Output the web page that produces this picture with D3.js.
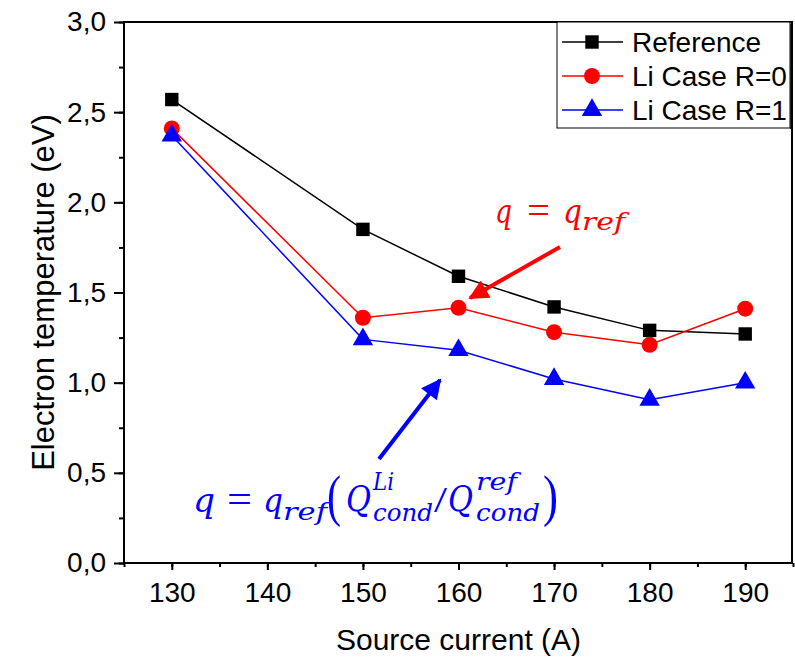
<!DOCTYPE html>
<html>
<head>
<meta charset="utf-8">
<script src="https://cdn.jsdelivr.net/npm/d3@7"></script>
<style>
  body { margin: 0; background: #fff; }
  svg text { font-family: "Liberation Sans", Arial, sans-serif; }
  svg text.math { font-family: "DejaVu Serif", serif; font-style: italic; }
  svg text.upright { font-family: "Liberation Serif", serif; }
</style>
</head>
<body>
<div id="chart"></div>
<script>
var w = 795;
var h = 661;
var margin = {top: 22, right: 2, bottom: 98, left: 124};

// data
var current = [130, 150, 160, 170, 180, 190];
var reference = [2.57, 1.85, 1.59, 1.42, 1.29, 1.27];
var liR0 = [2.41, 1.36, 1.415, 1.28, 1.21, 1.41];
var liR1 = [2.37, 1.24, 1.18, 1.02, 0.905, 1.0];
var seriesNames = ["Reference", "Li Case R=0", "Li Case R=1"];
var seriesColors = ["#000000", "#ff0000", "#0000ff"];
var seriesShapes = [d3.symbolSquare, d3.symbolCircle, d3.symbolTriangle];
var seriesSizes = [180, 200, 180];
var xTicks = [130, 140, 150, 160, 170, 180, 190];
var yTicks = [0, 0.5, 1.0, 1.5, 2.0, 2.5, 3.0];

var svg = d3.select("#chart").append("svg")
  .attr("width", w)
  .attr("height", h);

var xScale = d3.scaleLinear()
  .domain([125, 195])
  .range([margin.left, w - margin.right]);
var yScale = d3.scaleLinear()
  .domain([0, 3])
  .range([h - margin.bottom, margin.top]);

var comma = function(d) { return d3.format(".1f")(d).replace(".", ","); };

// minor ticks
svg.append("g")
  .attr("transform", "translate(0," + (h - margin.bottom) + ")")
  .call(d3.axisBottom(xScale).tickValues(d3.range(125, 196, 5)).tickSize(4).tickFormat(""))
  .call(function(g) { g.select(".domain").remove(); g.selectAll("line").attr("stroke-width", 2); });
svg.append("g")
  .attr("transform", "translate(" + margin.left + ",0)")
  .call(d3.axisLeft(yScale).tickValues(d3.range(0, 3.01, 0.25)).tickSize(5).tickFormat(""))
  .call(function(g) { g.select(".domain").remove(); g.selectAll("line").attr("stroke-width", 2); });

// major ticks
var xAxis = svg.append("g")
  .attr("transform", "translate(0," + (h - margin.bottom) + ")")
  .call(d3.axisBottom(xScale).tickValues(xTicks).tickSize(7).tickPadding(12));
xAxis.select(".domain").remove();
xAxis.selectAll("line").attr("stroke-width", 2);
xAxis.selectAll("text")
  .attr("font-size", 28)
  .attr("fill", "#000");

var yAxis = svg.append("g")
  .attr("transform", "translate(" + margin.left + ",0)")
  .call(d3.axisLeft(yScale).tickValues(yTicks).tickSize(10).tickPadding(8).tickFormat(comma));
yAxis.select(".domain").remove();
yAxis.selectAll("line").attr("stroke-width", 2);
yAxis.selectAll("text")
  .attr("font-size", 28)
  .attr("fill", "#000");

// frame
svg.append("rect")
  .attr("x", margin.left)
  .attr("y", margin.top)
  .attr("width", w - margin.left - margin.right - 1)
  .attr("height", h - margin.top - margin.bottom)
  .attr("fill", "none")
  .attr("stroke", "#000")
  .attr("stroke-width", 2);

// axis titles
svg.append("text")
  .attr("x", (margin.left + w - margin.right) / 2)
  .attr("y", 650)
  .attr("text-anchor", "middle")
  .attr("font-size", 30)
  .text("Source current (A)");
svg.append("text")
  .attr("transform", "translate(54," + ((margin.top + h - margin.bottom) / 2) + ") rotate(-90)")
  .attr("text-anchor", "middle")
  .attr("font-size", 31)
  .text("Electron temperature (eV)");

// series
var allSeries = [reference, liR0, liR1];
var line = d3.line()
  .x(function(d, i) { return xScale(current[i]); })
  .y(function(d) { return yScale(d); });

allSeries.forEach(function(vals, s) {
  svg.append("path")
    .datum(vals)
    .attr("d", line)
    .attr("fill", "none")
    .attr("stroke", seriesColors[s])
    .attr("stroke-width", 1.5);
});
allSeries.forEach(function(vals, s) {
  svg.selectAll(".pt" + s)
    .data(vals)
    .enter()
    .append("path")
    .attr("class", "pt" + s)
    .attr("d", d3.symbol().type(seriesShapes[s]).size(seriesSizes[s]))
    .attr("transform", function(d, i) {
      return "translate(" + xScale(current[i]) + "," + yScale(d) + ")";
    })
    .attr("fill", seriesColors[s]);
});

// legend
var legend = svg.append("g").attr("transform", "translate(557,22)");
legend.append("line")
  .attr("x1", 234).attr("x2", 234).attr("y1", 2).attr("y2", 107)
  .attr("stroke", "#000").attr("stroke-width", 1.5);
legend.append("rect")
  .attr("width", 233)
  .attr("height", 106)
  .attr("fill", "#fff")
  .attr("stroke", "#000")
  .attr("stroke-width", 1);
seriesNames.forEach(function(name, s) {
  var yy = 20 + s * 34;
  legend.append("line")
    .attr("x1", 5).attr("x2", 66)
    .attr("y1", yy).attr("y2", yy)
    .attr("stroke", seriesColors[s])
    .attr("stroke-width", 1.5);
  legend.append("path")
    .attr("d", d3.symbol().type(seriesShapes[s]).size(seriesSizes[s]))
    .attr("transform", "translate(35," + yy + ")")
    .attr("fill", seriesColors[s]);
  legend.append("text")
    .attr("x", 75)
    .attr("y", yy + 10)
    .attr("font-size", 28)
    .text(name);
});

// arrow heads
var defs = svg.append("defs");
[["red", "#ff0000"], ["blue", "#0000ff"]].forEach(function(c) {
  defs.append("marker")
    .attr("id", "arrow-" + c[0])
    .attr("viewBox", "0 0 10 10")
    .attr("refX", 9).attr("refY", 5)
    .attr("markerWidth", 6).attr("markerHeight", 5)
    .attr("markerUnits", "strokeWidth")
    .attr("orient", "auto")
    .append("path")
    .attr("d", "M0,0 L10,5 L0,10 Z")
    .attr("fill", c[1]);
});

// math pieces: [text, x, baseline y, width, font size, class]
function mathText(g, pieces) {
  pieces.forEach(function(p) {
    g.append("text")
      .attr("class", p[5])
      .attr("x", p[1]).attr("y", p[2])
      .attr("font-size", p[4])
      .attr("textLength", p[3])
      .attr("lengthAdjust", "spacingAndGlyphs")
      .text(p[0]);
  });
}

// red annotation
svg.append("line")
  .attr("x1", 560).attr("y1", 247)
  .attr("x2", 470).attr("y2", 298)
  .attr("stroke", "#ff0000")
  .attr("stroke-width", 4)
  .attr("marker-end", "url(#arrow-red)");
var red = svg.append("g").attr("fill", "#ff0000");
mathText(red, [
  ["q", 495, 223, 17, 34, "math"],
  ["=", 527, 224, 23, 40, "upright"],
  ["q", 563, 223, 19, 34, "math"],
  ["ref", 582, 230, 43, 25, "math"]
]);

// blue annotation
svg.append("line")
  .attr("x1", 379).attr("y1", 459)
  .attr("x2", 440).attr("y2", 380)
  .attr("stroke", "#0000ff")
  .attr("stroke-width", 4)
  .attr("marker-end", "url(#arrow-blue)");
var blue = svg.append("g").attr("fill", "#0000ff");
mathText(blue, [
  ["q", 193, 512, 22, 34, "math"],
  ["=", 227, 513, 25, 40, "upright"],
  ["q", 263, 512, 20, 34, "math"],
  ["ref", 283, 520, 44, 25, "math"],
  ["(", 327, 515, 14, 58, "upright"],
  ["Q", 346, 511, 25, 36, "math"],
  ["Li", 373, 490, 21, 24, "math"],
  ["cond", 373, 521, 60, 25, "math"],
  ["/", 434, 512, 13, 36, "upright"],
  ["Q", 448, 511, 25, 36, "math"],
  ["ref", 476, 490, 41, 24, "math"],
  ["cond", 476, 521, 64, 25, "math"],
  [")", 543, 515, 15, 58, "upright"]
]);
</script>
</body>
</html>
